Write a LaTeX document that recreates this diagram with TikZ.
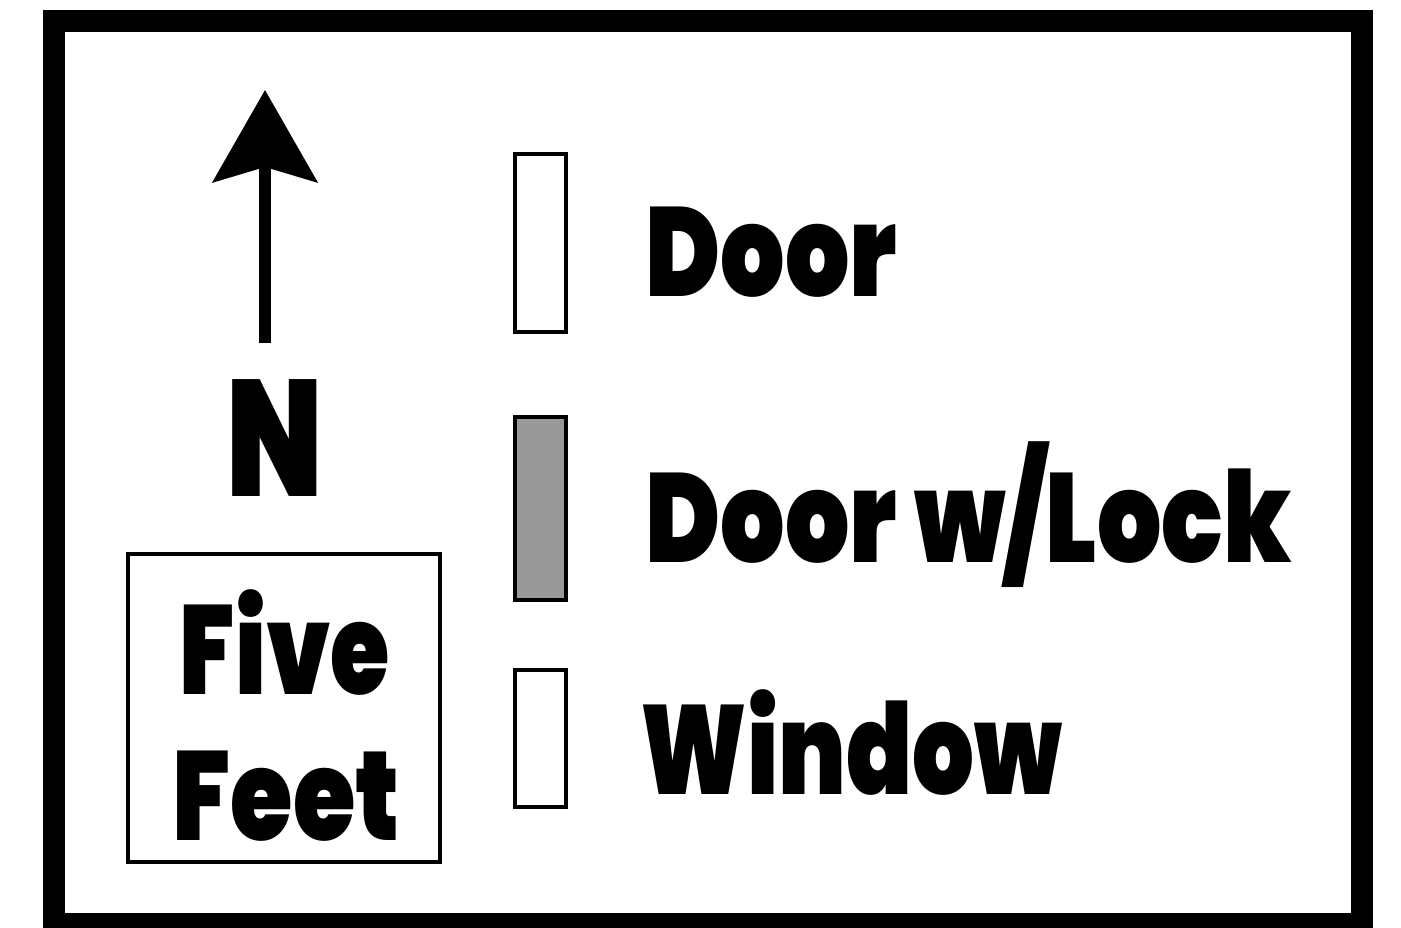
\documentclass[tikz,border=0pt]{standalone}
\usepackage{fontspec}
\setmainfont{Poppins}[BoldFont={Poppins Black}]
\usetikzlibrary{arrows.meta}

\tikzset{
    legendbox/.style={draw=black, line width=0.04cm, minimum width=0.51cm, inner sep=0pt},
    legendtext/.style={anchor=base west, inner sep=0pt, xscale=0.8, font=\fontsize{36}{40}\selectfont\bfseries},
}

\begin{document}
\begin{tikzpicture}
        \useasboundingbox (0,0) rectangle (14.01,-9.28);
        % frame
            \draw [line width=0.22cm] (0.54,-0.21) rectangle (13.62,-9.24);
        % north arrow
            \node[anchor=base, inner sep=0pt, xscale=0.75, font=\fontsize{47}{50}\selectfont\bfseries] (north) at (2.75,-4.97) {N};
            \coordinate (tail) at (2.65,-3.43);
            \coordinate (tip) at (2.65,-0.90);
            \draw [line width=0.12cm, -{Stealth[length=0.92cm, width=1.04cm, inset=0.15cm]}] (tail) -- (tip);
        % scale box
            \draw [line width=0.04cm] (1.28,-5.54) rectangle (4.40,-8.62);
            \node[legendtext, anchor=base, xscale=0.95] (five) at (2.85,-6.95) {Five};
            \node[legendtext, anchor=base] (feet) at (2.86,-8.40) {Feet};
        % legend
            \node[legendbox, minimum height=1.78cm] (door) at (5.405,-2.43) {};
            \node[legendbox, minimum height=1.83cm, fill=black!40] (lock) at (5.405,-5.085) {};
            \node[legendbox, minimum height=1.37cm] (window) at (5.40,-7.385) {};
            \node[legendtext] (doortext) at (6.45,-2.97) {Door};
            \node[legendtext] (locktext) at (6.45,-5.63) {Door w/Lock};
            \node[legendtext, xscale=0.96] (windowtext) at (6.40,-7.95) {Window};
    \end{tikzpicture}
\end{document}
